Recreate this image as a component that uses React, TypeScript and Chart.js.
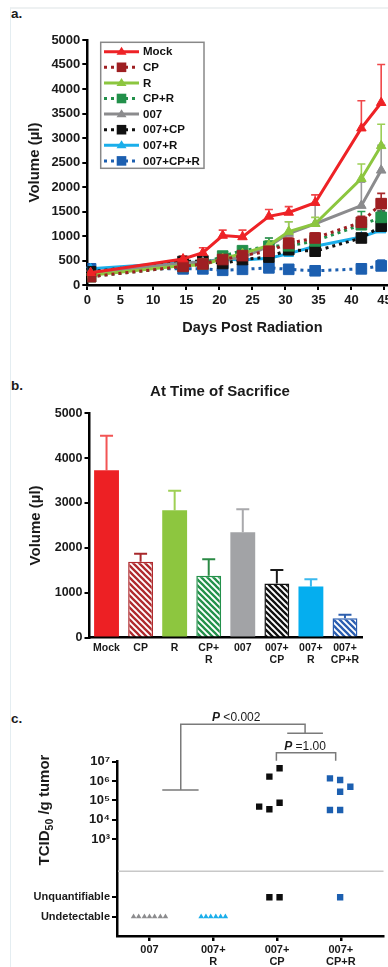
import React, { useEffect, useRef } from "react";
import { Chart, registerables } from "chart.js";

Chart.register(...registerables);

const FONT = '"Liberation Sans", Arial, Helvetica, sans-serif';

// ---------- Panel a: tumour volume over time ----------
const days = [0.5, 14.5, 17.5, 20.5, 23.5, 27.5, 30.5, 34.5, 41.5, 44.5];
const seriesNames = ["Mock", "CP", "R", "CP+R", "007", "007+CP", "007+R", "007+CP+R"];
const mockVol = [250, 530, 660, 1010, 980, 1400, 1480, 1680, 3200, 3720];
const mockErr = [300, 590, 760, 1120, 1120, 1540, 1600, 1840, 3760, 4500];
const cpVol = [170, 380, 430, 520, 600, 690, 850, 960, 1280, 1660];
const cpErr = [200, 420, 480, 580, 660, 760, 960, 1060, 1400, 1870];
const rVol = [200, 400, 410, 540, 640, 810, 1090, 1250, 2170, 2840];
const rErr = [230, 440, 450, 600, 700, 900, 1290, 1380, 2470, 3280];
const cprVol = [170, 380, 430, 590, 700, 790, 800, 900, 1230, 1380];
const cprErr = [200, 420, 470, 650, 760, 960, 880, 980, 1500, 1750];
const v007Vol = [250, 450, 470, 520, 560, 790, 1050, 1250, 1620, 2340];
const v007Err = [280, 500, 520, 580, 620, 960, 1290, 1640, 2100, 2850];
const v007cpVol = [270, 480, 490, 440, 520, 570, 720, 690, 960, 1200];
const v007cpErr = [300, 530, 540, 500, 580, 640, 800, 760, 1040, 1510];
const v007rVol = [330, 460, 470, 530, 510, 545, 640, 790, 980, 1120];
const v007rErr = [360, 500, 500, 570, 550, 600, 700, 840, 1040, 1290];
const v007cprVol = [330, 330, 330, 300, 320, 350, 320, 290, 330, 390];
const v007cprErr = [360, 360, 360, 330, 350, 380, 350, 320, 430, 510];

const lineVals = [mockVol, cpVol, rVol, cprVol, v007Vol, v007cpVol, v007rVol, v007cprVol];
const lineErrs = [mockErr, cpErr, rErr, cprErr, v007Err, v007cpErr, v007rErr, v007cprErr];
const lineStyle = [
  { color: "#ee2226", err: "#f0474a", dotted: false, marker: "triangle" },
  { color: "#9e1f22", err: "#a8282b", dotted: true, marker: "rect" },
  { color: "#8cc63f", err: "#9ccf55", dotted: false, marker: "triangle" },
  { color: "#22904a", err: "#2a9a52", dotted: true, marker: "rect" },
  { color: "#8b8b8d", err: "#9a9a9c", dotted: false, marker: "triangle" },
  { color: "#111111", err: "#222222", dotted: true, marker: "rect" },
  { color: "#1aaeea", err: "#30b6ee", dotted: false, marker: "triangle" },
  { color: "#1c5fb0", err: "#2f6bb8", dotted: true, marker: "rect" },
];

// ---------- Panel b: volume at time of sacrifice ----------
const barLabels = ["Mock", "CP", "R", ["CP+", "R"], "007", ["007+", "CP"], ["007+", "R"], ["007+", "CP+R"]];
const barMeans = [3730, 1690, 2840, 1375, 2345, 1205, 1135, 430];
const barErrTop = [4500, 1865, 3270, 1745, 2860, 1505, 1298, 505];
const barStyle = [
  { color: "#ed2024", err: "#f25454", hatch: false },
  { color: "#b02a2e", err: "#a8282b", hatch: true },
  { color: "#8dc63f", err: "#9fd055", hatch: false },
  { color: "#23914a", err: "#2b8a45", hatch: true },
  { color: "#a2a3a6", err: "#a9a9ac", hatch: false },
  { color: "#111111", err: "#1a1a1a", hatch: true },
  { color: "#05aeef", err: "#3bb9ee", hatch: false },
  { color: "#2a5db0", err: "#2d5fae", hatch: true },
];

// ---------- Panel c: virus titre ----------
const cGroupLabels = ["007", ["007+", "R"], ["007+", "CP"], ["007+", "CP+R"]];
const cTickValues = [0.1, 1, 1e3, 1e4, 1e5, 1e6, 1e7];
const cTickLabels = ["Undetectable", "Unquantifiable", "10\u00b3", "10\u2074", "10\u2075", "10\u2076", "10\u2077"];
const UNDETECTABLE = 0.1;
const UNQUANTIFIABLE = 1;
const cpTiters = [4.6e6, 1.7e6, 4.8e4, 3.5e4, 7.6e4];
const cpJitter = [0.04, -0.12, -0.28, -0.12, 0.04];
const cpUnquantJitter = [-0.12, 0.04];
const cprTiters = [1.38e6, 1.14e6, 5.1e5, 2.8e5, 3.2e4, 3.2e4];
const cprJitter = [-0.17, -0.01, 0.15, -0.01, -0.17, -0.01];
const cprUnquantJitter = [-0.01];
const j007Undetect = [-0.25, -0.17, -0.08, 0, 0.08, 0.17, 0.25];
const j007rUndetect = [-0.19, -0.115, -0.04, 0.04, 0.115, 0.19];

const plainNumber = (v: any) => String(v);

function makeHatch(color: string) {
  const s = 6;
  const c = document.createElement("canvas");
  c.width = s;
  c.height = s;
  const g = c.getContext("2d")!;
  g.fillStyle = "#ffffff";
  g.fillRect(0, 0, s, s);
  g.strokeStyle = color;
  g.lineWidth = 2.3;
  g.beginPath();
  g.moveTo(-1, -1);
  g.lineTo(s + 1, s + 1);
  g.moveTo(-1, s - 1);
  g.lineTo(1, s + 1);
  g.moveTo(s - 1, -1);
  g.lineTo(s + 1, 1);
  g.stroke();
  return g.createPattern(c, "repeat")!;
}

function drawMarker(ctx: CanvasRenderingContext2D, style: string, x: number, y: number, r: number, color: string) {
  ctx.save();
  ctx.fillStyle = color;
  ctx.beginPath();
  if (style === "triangle") {
    const h = r * 1.6;
    ctx.moveTo(x, y - h * 0.62);
    ctx.lineTo(x + r, y + h * 0.38);
    ctx.lineTo(x - r, y + h * 0.38);
    ctx.closePath();
  } else {
    ctx.rect(x - r, y - r, 2 * r, 2 * r);
  }
  ctx.fill();
  ctx.restore();
}

const axisTick = (size: number) => ({ size, weight: "bold" as const });

function makeA(canvas: HTMLCanvasElement) {
  const errPlugin = {
    id: "errA",
    beforeDatasetsDraw(chart: any) {
      const { ctx, scales } = chart;
      const x = scales.x, y = scales.y;
      for (let i = lineVals.length - 1; i >= 0; i--) {
        ctx.save();
        ctx.strokeStyle = lineStyle[i].err;
        ctx.lineWidth = 1.6;
        lineErrs[i].forEach((e, j) => {
          const px = x.getPixelForValue(days[j]);
          const p0 = y.getPixelForValue(lineVals[i][j]);
          const p1 = y.getPixelForValue(e);
          ctx.beginPath();
          ctx.moveTo(px, p0);
          ctx.lineTo(px, p1);
          ctx.moveTo(px - 4, p1);
          ctx.lineTo(px + 4, p1);
          ctx.stroke();
        });
        ctx.restore();
      }
    },
  };
  const legendPlugin = {
    id: "legendA",
    afterDraw(chart: any) {
      const ctx = chart.ctx as CanvasRenderingContext2D;
      ctx.save();
      ctx.fillStyle = "#ffffff";
      ctx.fillRect(100.7, 22.3, 103.3, 126);
      ctx.strokeStyle = "#888";
      ctx.lineWidth = 1.5;
      ctx.strokeRect(100.7, 22.3, 103.3, 126);
      seriesNames.forEach((name, i) => {
        const y = 31.7 + i * 15.6;
        const st = lineStyle[i];
        ctx.strokeStyle = st.color;
        ctx.lineWidth = 3;
        ctx.setLineDash(st.dotted ? [3, 4] : []);
        ctx.beginPath();
        ctx.moveTo(104, y);
        ctx.lineTo(139, y);
        ctx.stroke();
        ctx.setLineDash([]);
        drawMarker(ctx, st.marker, 121.5, y, st.marker === "rect" ? 4.8 : 5, st.color);
        ctx.fillStyle = "#111";
        ctx.font = `bold 11.5px ${FONT}`;
        ctx.textBaseline = "middle";
        ctx.textAlign = "left";
        ctx.fillText(name, 143, y + 0.5);
      });
      ctx.restore();
    },
  };
  return new Chart(canvas, {
    type: "line",
    data: {
      datasets: seriesNames.map((name, i) => ({
        label: name,
        data: days.map((d, j) => ({ x: d, y: lineVals[i][j] })),
        borderColor: lineStyle[i].color,
        backgroundColor: lineStyle[i].color,
        pointBackgroundColor: lineStyle[i].color,
        pointBorderColor: lineStyle[i].color,
        pointStyle: lineStyle[i].marker as any,
        pointRadius: lineStyle[i].marker === "rect" ? 7.5 : 5.5,
        pointBorderWidth: 1,
        borderWidth: 3,
        borderDash: lineStyle[i].dotted ? [3, 4] : [],
        tension: 0,
        fill: false,
      })),
    },
    options: {
      animation: false,
      responsive: false,
      maintainAspectRatio: false,
      layout: { padding: { top: 20, right: 6, left: 0, bottom: 0 } },
      plugins: { legend: { display: false }, tooltip: { enabled: false } },
      scales: {
        x: {
          type: "linear",
          min: 0,
          max: 50,
          ticks: { stepSize: 5, callback: plainNumber, font: axisTick(13), color: "#1a1a1a", padding: 3, maxRotation: 0 },
          grid: { drawOnChartArea: false, tickLength: 5, color: "#000", lineWidth: 2 },
          border: { color: "#000", width: 2.5 },
          title: { display: true, text: "Days Post Radiation", font: { size: 14.5, weight: "bold" }, color: "#1a1a1a", padding: { bottom: 3 } },
          afterFit(s: any) {
            s.height = 55;
            s.paddingLeft = 0;
            s.paddingRight = 0;
          },
        },
        y: {
          min: 0,
          max: 5000,
          ticks: { stepSize: 500, callback: plainNumber, font: axisTick(13), color: "#1a1a1a", padding: 2 },
          grid: { drawOnChartArea: false, tickLength: 5, color: "#000", lineWidth: 2 },
          border: { color: "#000", width: 2.5 },
          title: { display: true, text: "Volume (\u00b5l)", font: { size: 15, weight: "bold" }, color: "#1a1a1a", padding: { top: 26 } },
          afterFit(s: any) {
            s.width = 87.3;
            s.paddingTop = 0;
            s.paddingBottom = 0;
          },
        },
      },
    } as any,
    plugins: [errPlugin, legendPlugin],
  });
}

function makeB(canvas: HTMLCanvasElement) {
  const errPlugin = {
    id: "errB",
    beforeDatasetsDraw(chart: any) {
      const { ctx } = chart;
      const meta = chart.getDatasetMeta(0);
      const y = chart.scales.y;
      meta.data.forEach((bar: any, i: number) => {
        const p1 = y.getPixelForValue(barErrTop[i]);
        ctx.save();
        ctx.strokeStyle = barStyle[i].err;
        ctx.lineWidth = 2;
        ctx.beginPath();
        ctx.moveTo(bar.x, bar.y);
        ctx.lineTo(bar.x, p1);
        ctx.moveTo(bar.x - 6.5, p1);
        ctx.lineTo(bar.x + 6.5, p1);
        ctx.stroke();
        ctx.restore();
      });
    },
    afterDraw(chart: any) {
      const ctx = chart.ctx as CanvasRenderingContext2D;
      ctx.save();
      ctx.fillStyle = "#1a1a1a";
      ctx.font = `bold 15px ${FONT}`;
      ctx.textAlign = "center";
      ctx.textBaseline = "middle";
      ctx.fillText("At Time of Sacrifice", 220, 22);
      ctx.restore();
    },
  };
  return new Chart(canvas, {
    type: "bar",
    data: {
      labels: barLabels as any,
      datasets: [
        {
          data: barMeans,
          backgroundColor: barStyle.map((s) => (s.hatch ? makeHatch(s.color) : s.color)) as any,
          borderColor: barStyle.map((s) => s.color),
          borderWidth: barStyle.map((s) => (s.hatch ? 1.5 : 0)),
          borderSkipped: "start",
          barPercentage: 0.73,
          categoryPercentage: 1,
        },
      ],
    },
    options: {
      animation: false,
      responsive: false,
      maintainAspectRatio: false,
      layout: { padding: { top: 43.3, right: 26, left: 0, bottom: 0 } },
      plugins: { legend: { display: false }, tooltip: { enabled: false } },
      scales: {
        x: {
          offset: true,
          ticks: { font: { size: 10.5, weight: "bold", lineHeight: 1.1 }, color: "#1a1a1a", padding: 5, maxRotation: 0, autoSkip: false },
          grid: { display: false, drawTicks: false },
          border: { color: "#000", width: 2.5 },
          afterFit(s: any) {
            s.height = 32.5;
            s.paddingLeft = 0;
            s.paddingRight = 0;
          },
        },
        y: {
          min: 0,
          max: 5000,
          ticks: { stepSize: 1000, callback: plainNumber, font: axisTick(12.5), color: "#1a1a1a", padding: 2 },
          grid: { drawOnChartArea: false, tickLength: 5, color: "#000", lineWidth: 2 },
          border: { color: "#000", width: 2.5 },
          title: { display: true, text: "Volume (\u00b5l)", font: { size: 15, weight: "bold" }, color: "#1a1a1a", padding: { top: 27 } },
          afterFit(s: any) {
            s.width = 89.5;
            s.paddingTop = 0;
            s.paddingBottom = 0;
          },
        },
      },
    } as any,
    plugins: [errPlugin],
  });
}

function makeC(canvas: HTMLCanvasElement) {
  const extras = {
    id: "extrasC",
    beforeDatasetsDraw(chart: any) {
      const { ctx, chartArea } = chart;
      const y = chart.scales.y;
      const py = y.getPixelForValue(22);
      ctx.save();
      ctx.strokeStyle = "#c8c8c8";
      ctx.lineWidth = 1.5;
      ctx.beginPath();
      ctx.moveTo(chartArea.left + 1, py);
      ctx.lineTo(chartArea.right, py);
      ctx.stroke();
      ctx.restore();
    },
    afterDraw(chart: any) {
      const ctx = chart.ctx as CanvasRenderingContext2D;
      const x = chart.scales.x, y = chart.scales.y;
      const X = (v: number) => x.getPixelForValue(v);
      ctx.save();
      ctx.strokeStyle = "#7a7a7a";
      ctx.lineWidth = 1.5;
      const yTop = 24.3;
      const yLeftBar = y.getPixelForValue(3.5e5);
      ctx.beginPath();
      ctx.moveTo(X(1.49), yLeftBar);
      ctx.lineTo(X(1.49), yTop);
      ctx.lineTo(X(3.44), yTop);
      ctx.lineTo(X(3.44), 33.3);
      ctx.moveTo(X(1.2), yLeftBar);
      ctx.lineTo(X(1.77), yLeftBar);
      ctx.moveTo(X(3.16), 33.3);
      ctx.lineTo(X(3.72), 33.3);
      ctx.moveTo(X(2.99), 60.7);
      ctx.lineTo(X(2.99), 52.7);
      ctx.lineTo(X(3.92), 52.7);
      ctx.lineTo(X(3.92), 60.7);
      ctx.stroke();
      const drawP = (rest: string, cx: number, cy: number) => {
        ctx.font = `italic bold 12px ${FONT}`;
        const w1 = ctx.measureText("P").width;
        ctx.font = `12px ${FONT}`;
        const w2 = ctx.measureText(rest).width;
        const x0 = cx - (w1 + w2) / 2;
        ctx.fillStyle = "#1a1a1a";
        ctx.textBaseline = "middle";
        ctx.textAlign = "left";
        ctx.font = `italic bold 12px ${FONT}`;
        ctx.fillText("P", x0, cy);
        ctx.font = `12px ${FONT}`;
        ctx.fillText(rest, x0 + w1, cy);
      };
      drawP(" <0.002", X(2.36), 17.3);
      drawP(" =1.00", X(3.44), 46.7);
      ctx.translate(45, 110);
      ctx.rotate(-Math.PI / 2);
      ctx.fillStyle = "#1a1a1a";
      ctx.textBaseline = "middle";
      ctx.textAlign = "left";
      const big = `bold 15px ${FONT}`;
      const small = `bold 10.5px ${FONT}`;
      ctx.font = big;
      const wA = ctx.measureText("TCID").width;
      const wC = ctx.measureText(" /g tumor").width;
      ctx.font = small;
      const wB = ctx.measureText("50").width;
      let sx = -(wA + wB + wC) / 2;
      ctx.font = big;
      ctx.fillText("TCID", sx, 0);
      sx += wA;
      ctx.font = small;
      ctx.fillText("50", sx, 5);
      sx += wB;
      ctx.font = big;
      ctx.fillText(" /g tumor", sx, 0);
      ctx.restore();
    },
  };
  const sq = (color: string, pts: { x: number; y: number }[]) => ({
    data: pts,
    pointStyle: "rect",
    pointRadius: 4.5,
    pointBackgroundColor: color,
    pointBorderColor: color,
    pointBorderWidth: 0,
    showLine: false,
  });
  const tri = (color: string, pts: { x: number; y: number }[]) => ({
    data: pts,
    pointStyle: "triangle",
    pointRadius: 3.2,
    pointBackgroundColor: color,
    pointBorderColor: color,
    pointBorderWidth: 0,
    showLine: false,
  });
  return new Chart(canvas, {
    type: "scatter",
    data: {
      datasets: [
        tri("#8c8c8e", j007Undetect.map((j) => ({ x: 1 + j, y: UNDETECTABLE }))),
        tri("#1aaeea", j007rUndetect.map((j) => ({ x: 2 + j, y: UNDETECTABLE }))),
        sq("#0d0d0d", cpTiters.map((t, i) => ({ x: 3 + cpJitter[i], y: t }))),
        sq("#0d0d0d", cpUnquantJitter.map((j) => ({ x: 3 + j, y: UNQUANTIFIABLE }))),
        sq("#1c5fb0", cprTiters.map((t, i) => ({ x: 4 + cprJitter[i], y: t }))),
        sq("#1c5fb0", cprUnquantJitter.map((j) => ({ x: 4 + j, y: UNQUANTIFIABLE }))),
      ] as any,
    },
    options: {
      animation: false,
      responsive: false,
      maintainAspectRatio: false,
      layout: { padding: { top: 61.7, right: 0, left: 0, bottom: 0 } },
      plugins: { legend: { display: false }, tooltip: { enabled: false } },
      scales: {
        x: {
          type: "linear",
          min: 0.49,
          max: 4.67,
          afterBuildTicks(s: any) {
            s.ticks = [1, 2, 3, 4].map((v) => ({ value: v }));
          },
          ticks: {
            callback: (_v: any, i: number) => cGroupLabels[i] as any,
            font: { size: 11, weight: "bold", lineHeight: 1.1 },
            color: "#1a1a1a",
            padding: 3,
            maxRotation: 0,
            autoSkip: false,
          },
          grid: { drawOnChartArea: false, tickLength: 5, color: "#000", lineWidth: 2.5 },
          border: { color: "#000", width: 2.5 },
          afterFit(s: any) {
            s.height = 31;
            s.paddingLeft = 0;
            s.paddingRight = 0;
          },
        },
        y: {
          type: "logarithmic",
          min: 0.01,
          max: 1e7,
          afterBuildTicks(s: any) {
            s.ticks = cTickValues.map((v) => ({ value: v }));
          },
          ticks: {
            callback: (_v: any, i: number) => cTickLabels[i],
            font: (c: any) => (c.tick && c.tick.value >= 1000 ? { size: 13, weight: "bold" } : { size: 11, weight: "bold" }),
            color: "#1a1a1a",
            padding: 2,
            autoSkip: false,
          },
          grid: { drawOnChartArea: false, tickLength: 5, color: "#000", lineWidth: 2 },
          border: { color: "#000", width: 2.5 },
          afterFit(s: any) {
            s.width = 117;
            s.paddingTop = 0;
            s.paddingBottom = 0;
          },
        },
      },
    } as any,
    plugins: [extras],
  });
}

const panelLabel = (top: number): React.CSSProperties => ({
  position: "absolute",
  left: 11,
  top,
  font: `bold 13.5px ${FONT}`,
  lineHeight: "13.5px",
  color: "#1a1a1a",
});

export default function App() {
  const aRef = useRef<HTMLCanvasElement>(null);
  const bRef = useRef<HTMLCanvasElement>(null);
  const cRef = useRef<HTMLCanvasElement>(null);

  useEffect(() => {
    Chart.defaults.font.family = FONT;
    Chart.defaults.color = "#1a1a1a";
    const charts = [makeA(aRef.current!), makeB(bRef.current!), makeC(cRef.current!)];
    return () => charts.forEach((c) => c.destroy());
  }, []);

  return (
    <div
      style={{
        position: "fixed",
        left: 0,
        top: 0,
        width: 388,
        height: 967,
        overflow: "hidden",
        background: "#ffffff",
        fontFamily: FONT,
      }}
    >
      <div
        style={{
          position: "absolute",
          left: 10,
          top: 7,
          right: -2,
          bottom: -2,
          borderLeft: "1px solid #e4edf1",
          borderTop: "2px solid #eef1f2",
        }}
      />
      <div style={panelLabel(6.6)}>a.</div>
      <div style={panelLabel(378.6)}>b.</div>
      <div style={panelLabel(711.9)}>c.</div>
      <canvas
        ref={aRef}
        width={426}
        height={320}
        style={{ position: "absolute", left: 0, top: 20, width: 426, height: 320 }}
      />
      <canvas
        ref={bRef}
        width={388}
        height={300}
        style={{ position: "absolute", left: 0, top: 370, width: 388, height: 300 }}
      />
      <canvas
        ref={cRef}
        width={388}
        height={267}
        style={{ position: "absolute", left: 0, top: 700, width: 388, height: 267 }}
      />
    </div>
  );
}
